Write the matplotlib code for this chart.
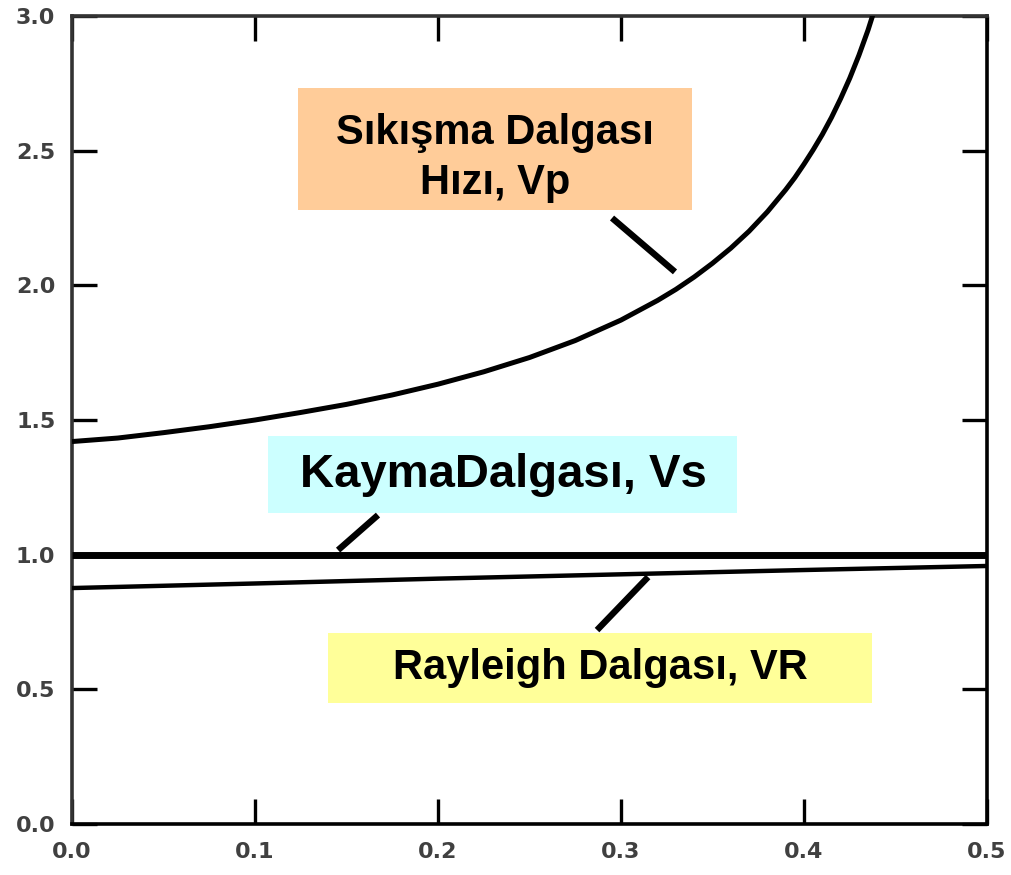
import matplotlib
matplotlib.use("Agg")
import matplotlib.pyplot as plt
from matplotlib.patches import Rectangle

# Poisson's ratio (x) and velocity ratios relative to shear wave velocity
nu_p = [0.0, 0.025, 0.05, 0.075, 0.1, 0.125, 0.15, 0.175, 0.2, 0.225, 0.25,
        0.275, 0.3, 0.32, 0.33, 0.34, 0.35, 0.36, 0.37, 0.38, 0.39, 0.395,
        0.40, 0.405, 0.41, 0.415, 0.42, 0.425, 0.43, 0.435, 0.44]
vp_ratio = [1.42, 1.433, 1.453, 1.475, 1.50, 1.528, 1.558, 1.593, 1.633, 1.679, 1.732,
            1.795, 1.871, 1.944, 1.985, 2.031, 2.082, 2.138, 2.201, 2.273, 2.355, 2.400,
            2.450, 2.503, 2.560, 2.623, 2.693, 2.769, 2.854, 2.948, 3.055]

nu_s = [0.0, 0.5]
vs_ratio = [1.0, 1.0]

nu_r = [0.0, 0.1, 0.2, 0.3, 0.4, 0.5]
vr_ratio = [0.876, 0.893, 0.911, 0.927, 0.943, 0.958]

x_ticks = [0.0, 0.1, 0.2, 0.3, 0.4, 0.5]
y_ticks = [0.0, 0.5, 1.0, 1.5, 2.0, 2.5, 3.0]

label_vp = "Sıkışma Dalgası\nHızı, Vp"
label_vs = "KaymaDalgası, Vs"
label_vr = "Rayleigh Dalgası, VR"

W, H = 1012, 875
fig = plt.figure(figsize=(W / 100, H / 100), dpi=100)
ax = fig.add_axes([72 / W, 1 - 824 / H, (987 - 72) / W, (824 - 16) / H])

ax.set_xlim(0, 0.5)
ax.set_ylim(0, 3.0)

# Curves
ax.plot(nu_p, vp_ratio, color="black", lw=3.6, solid_capstyle="butt", zorder=3)
ax.plot(nu_s, vs_ratio, color="black", lw=5.0, solid_capstyle="butt", zorder=3)
ax.plot(nu_r, vr_ratio, color="black", lw=3.2, solid_capstyle="butt", zorder=3)

# Spines
for side in ["left", "top"]:
    ax.spines[side].set_color("#333333")
    ax.spines[side].set_linewidth(2.6)
for side in ["right", "bottom"]:
    ax.spines[side].set_color("black")
    ax.spines[side].set_linewidth(2.6)

ax.set_xticks(x_ticks)
ax.set_yticks(y_ticks)
ax.set_xticklabels([f"{v:.1f}" for v in x_ticks])
ax.set_yticklabels([f"{v:.1f}" for v in y_ticks])
ax.tick_params(axis="both", which="major", direction="in", length=18, width=2.4,
               color="black", top=True, right=True,
               labelsize=16, labelcolor="#404040")
ax.tick_params(axis="y", pad=12)
ax.tick_params(axis="x", pad=13)
for lbl in ax.get_xticklabels() + ax.get_yticklabels():
    lbl.set_fontweight("bold")
    lbl.set_family("DejaVu Sans")

# Labelled boxes: (x0, y0, x1, y1) in data units
boxes = [
    ((0.1235, 2.280, 0.3388, 2.733), "#FFCC99"),
    ((0.1071, 1.155, 0.3634, 1.441), "#CCFFFF"),
    ((0.1399, 0.449, 0.4372, 0.709), "#FFFF99"),
]
for (x0, y0, x1, y1), col in boxes:
    ax.add_patch(Rectangle((x0, y0), x1 - x0, y1 - y0, facecolor=col,
                           edgecolor="none", zorder=4))

font = dict(family="Liberation Sans", fontweight="bold", color="black",
            ha="center", va="center", zorder=5)
ax.text(0.2311, 2.472, label_vp, fontsize=30, linespacing=1.32, **font)
ax.text(0.2355, 1.295, label_vs, fontsize=34, **font)
ax.text(0.2887, 0.578, label_vr, fontsize=30, **font)

# Pointer strokes from each box to its curve
pointers = [
    ((0.2951, 2.250), (0.3295, 2.050)),
    ((0.1672, 1.147), (0.1454, 1.017)),
    ((0.3148, 0.917), (0.2869, 0.720)),
]
for (xa, ya), (xb, yb) in pointers:
    ax.plot([xa, xb], [ya, yb], color="black", lw=4.6,
            solid_capstyle="butt", zorder=4)

fig.savefig("out.png", dpi=100, facecolor="white")
